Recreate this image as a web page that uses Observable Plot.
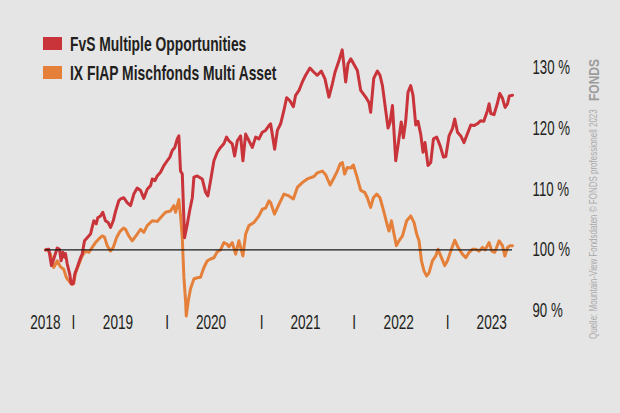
<!DOCTYPE html>
<html><head><meta charset="utf-8">
<script src="https://cdn.jsdelivr.net/npm/d3@7"></script>
<script src="https://cdn.jsdelivr.net/npm/@observablehq/plot@0.6"></script>
<style>
html,body{margin:0;padding:0;background:#e5e5e5;}
#wrap{position:relative;width:620px;height:413px;overflow:hidden;background:#e5e5e5;}
#wrap svg{position:absolute;left:0;top:0;}
.leg{position:absolute;left:43px;font-family:"Liberation Sans",Arial,sans-serif;font-weight:bold;font-size:21px;color:#231f20;white-space:nowrap;}
.leg .sw{position:absolute;left:0;width:19px;height:13px;}
.leg .tx{position:absolute;left:27px;display:inline-block;transform:scaleX(0.66);transform-origin:0 0;line-height:21px;}
.src{position:absolute;transform-origin:0 0;white-space:nowrap;font-family:"Liberation Sans",Arial,sans-serif;}
</style></head><body><div id="wrap"></div>
<script>
const seriesNames = ["FvS Multiple Opportunities", "IX FIAP Mischfonds Multi Asset"];
const seriesColors = ["#c9333a", "#e5803b"];

// time in decimal years, value in %
const fvsT = [2018.701,2018.736,2018.765,2018.789,2018.826,2018.850,2018.868,2018.886,2018.904,2018.914,
2018.933,2018.960,2018.975,2018.997,2019.014,2019.040,2019.075,2019.093,2019.118,2019.147,
2019.182,2019.217,2019.243,2019.260,2019.289,2019.313,2019.342,2019.371,2019.396,2019.425,
2019.449,2019.484,2019.503,2019.538,2019.574,2019.610,2019.645,2019.681,2019.717,2019.752,
2019.788,2019.824,2019.842,2019.870,2019.895,2019.930,2019.966,2020.002,2020.030,2020.056,
2020.083,2020.109,2020.126,2020.144,2020.163,2020.187,2020.216,2020.241,2020.270,2020.287,
2020.323,2020.376,2020.412,2020.436,2020.465,2020.501,2020.537,2020.572,2020.607,2020.636,
2020.661,2020.697,2020.722,2020.751,2020.786,2020.811,2020.840,2020.875,2020.911,2020.947,
2020.982,2021.018,2021.053,2021.089,2021.107,2021.150,2021.179,2021.214,2021.249,2021.278,
2021.313,2021.350,2021.374,2021.410,2021.446,2021.481,2021.527,2021.570,2021.606,2021.649,
2021.688,2021.730,2021.767,2021.795,2021.837,2021.872,2021.891,2021.909,2021.934,2021.963,
2021.991,2022.034,2022.070,2022.123,2022.158,2022.176,2022.209,2022.248,2022.276,2022.302,
2022.337,2022.362,2022.383,2022.409,2022.444,2022.471,2022.503,2022.526,2022.551,2022.575,
2022.604,2022.629,2022.658,2022.682,2022.711,2022.736,2022.757,2022.789,2022.818,2022.847,
2022.882,2022.918,2022.954,2022.979,2023.014,2023.050,2023.075,2023.104,2023.139,2023.174,
2023.211,2023.246,2023.281,2023.316,2023.353,2023.385,2023.425,2023.442,2023.460,2023.495,
2023.529,2023.556,2023.585,2023.613,2023.639,2023.658,2023.692];
const fvsV = [100.0,100.1,97.4,98.5,100.3,100.1,98.2,99.6,98.8,99.4,
97.7,96.0,94.4,94.4,96.0,97.1,98.7,99.3,101.5,102.0,
102.6,104.8,104.3,105.3,105.6,106.2,104.8,104.5,103.7,104.8,
106.3,108.1,108.4,108.6,107.8,107.3,109.2,110.2,109.8,108.5,
110.0,110.6,111.7,111.4,112.2,112.8,113.9,114.7,115.3,116.4,
116.9,118.3,118.8,113.0,112.5,102.0,104.2,106.4,108.6,112.0,
112.2,111.7,109.5,108.9,111.4,114.7,116.1,116.9,117.5,118.6,
118.0,117.5,115.5,118.0,118.8,114.7,119.1,118.0,116.9,118.6,
118.3,119.4,119.7,120.5,120.8,116.6,119.7,120.8,123.0,125.1,
124.6,123.6,125.5,126.3,127.7,128.8,130.0,129.3,128.8,129.5,
128.2,125.2,127.4,129.3,131.2,133.0,130.4,127.7,130.7,131.5,
130.8,129.6,126.3,125.2,124.3,122.7,128.3,129.5,128.8,127.1,
123.0,120.1,121.0,123.8,114.7,117.5,121.1,118.5,121.3,126.0,
127.1,125.5,120.6,121.2,119.1,116.1,117.7,113.9,114.4,118.3,
118.6,117.2,115.3,115.4,118.8,120.0,121.6,119.4,118.8,117.7,
119.2,120.6,120.5,120.8,121.3,121.2,123.0,124.1,122.5,122.3,
124.1,125.8,125.0,123.5,124.1,125.4,125.5];

const fiapT = [2018.701,2018.719,2018.754,2018.789,2018.826,2018.861,2018.896,2018.925,2018.950,2018.986,
2019.003,2019.021,2019.057,2019.093,2019.128,2019.164,2019.200,2019.235,2019.271,2019.307,
2019.332,2019.360,2019.396,2019.425,2019.460,2019.495,2019.535,2019.556,2019.591,2019.628,
2019.681,2019.717,2019.752,2019.788,2019.842,2019.895,2019.930,2019.984,2020.037,2020.073,
2020.091,2020.126,2020.144,2020.163,2020.180,2020.198,2020.205,2020.227,2020.251,2020.287,
2020.321,2020.358,2020.394,2020.430,2020.465,2020.501,2020.537,2020.572,2020.607,2020.644,
2020.661,2020.697,2020.733,2020.768,2020.811,2020.840,2020.875,2020.928,2020.982,2021.018,
2021.053,2021.089,2021.107,2021.148,2021.196,2021.249,2021.303,2021.350,2021.392,2021.446,
2021.499,2021.570,2021.606,2021.660,2021.695,2021.743,2021.784,2021.820,2021.850,2021.874,
2021.898,2021.927,2021.963,2021.991,2022.027,2022.070,2022.112,2022.141,2022.176,2022.205,
2022.241,2022.276,2022.319,2022.355,2022.372,2022.398,2022.426,2022.451,2022.479,2022.516,
2022.561,2022.604,2022.640,2022.668,2022.693,2022.719,2022.747,2022.775,2022.800,2022.836,
2022.872,2022.896,2022.925,2022.968,2022.997,2023.032,2023.075,2023.110,2023.157,2023.193,
2023.228,2023.264,2023.300,2023.335,2023.371,2023.399,2023.442,2023.471,2023.503,2023.549,
2023.585,2023.610,2023.639,2023.666,2023.692];
const fiapV = [100.0,100.1,99.3,97.1,98.2,97.2,96.8,95.4,94.9,94.3,
94.5,96.2,97.6,99.0,99.8,99.6,100.4,101.2,101.8,102.3,
102.1,100.7,99.8,100.4,102.0,103.0,103.6,103.4,102.3,101.5,
102.6,103.4,102.9,104.0,104.8,104.7,105.3,106.2,106.4,107.3,
106.2,108.3,105.7,102.0,95.5,91.6,89.1,91.6,93.6,95.2,
95.4,95.5,97.1,98.2,98.5,98.7,99.7,100.0,101.2,100.9,
100.5,101.2,99.3,101.5,99.0,102.6,104.0,104.5,105.6,106.7,
106.9,108.1,107.8,105.9,107.5,109.2,108.9,108.4,110.3,111.1,
111.7,112.1,112.7,113.0,112.4,110.7,111.9,113.0,114.2,114.4,
112.5,113.6,113.5,114.0,112.2,109.8,109.5,108.6,107.0,108.6,
109.2,108.6,106.2,104.0,103.1,104.8,102.6,100.7,101.5,102.3,
104.8,105.6,104.5,102.6,101.5,98.2,96.5,95.7,96.2,98.2,
99.0,100.1,99.0,97.4,98.2,99.8,101.6,100.4,99.3,98.7,
99.6,100.1,100.1,99.8,100.4,100.0,101.2,99.8,99.6,101.5,
100.7,99.0,100.4,100.7,100.7];

const yTicks = [90, 100, 110, 120, 130];
const yearLabels = ["2018", "2019", "2020", "2021", "2022", "2023"];
const yearLabelPos = [2018.70, 2019.476, 2020.47, 2021.48, 2022.476, 2023.47];
const yearBreaks = [2019, 2020, 2021.01, 2022, 2023];
const baseline = 100;

const fvs = fvsT.map((t, i) => ({t, v: fvsV[i]}));
const fiap = fiapT.map((t, i) => ({t, v: fiapV[i]}));

const chart = Plot.plot({
  width: 620, height: 413,
  marginLeft: 45, marginRight: 108, marginTop: 67.5, marginBottom: 103,
  style: {background: "transparent", fontFamily: "'Liberation Sans', Arial, sans-serif", color: "#231f20"},
  x: {domain: [fvsT[0], fvsT[fvsT.length - 1]], axis: null},
  y: {domain: [90, 130], axis: null},
  marks: [
    Plot.line(fiap, {x: "t", y: "v", stroke: seriesColors[1], strokeWidth: 3, strokeLinejoin: "round", strokeLinecap: "round"}),
    Plot.line(fvs, {x: "t", y: "v", stroke: seriesColors[0], strokeWidth: 3, strokeLinejoin: "round", strokeLinecap: "round"}),
    Plot.ruleY([baseline], {stroke: "#1a1a1a", strokeWidth: 1.4}),
    Plot.axisY(yTicks, {anchor: "right", label: null, tickSize: 0, tickPadding: 20, tickFormat: d => d + " %", fontSize: 19.5, fill: "#231f20"}),
    Plot.text(yearLabels, {x: (d, i) => yearLabelPos[i], text: d => d, frameAnchor: "bottom", dy: 18, fontSize: 20, fill: "#231f20"}),
    Plot.text(yearBreaks, {x: d => d, text: () => "I", frameAnchor: "bottom", dy: 18, fontSize: 20, fill: "#231f20"})
  ]
});
const wrap = document.getElementById("wrap");
wrap.appendChild(chart);

// condense text glyphs to mimic the narrow typeface
chart.querySelectorAll("text").forEach(t => {
  const len = t.getComputedTextLength();
  if (len > 0) { t.setAttribute("textLength", (len * 0.68).toFixed(1)); t.setAttribute("lengthAdjust", "spacingAndGlyphs"); }
});

// legend
seriesNames.forEach((name, i) => {
  const d = document.createElement("div");
  d.className = "leg";
  d.style.top = (33 + i * 29) + "px";
  d.innerHTML = `<span class="sw" style="top:4px;background:${seriesColors[i]}"></span><span class="tx">${name}</span>`;
  wrap.appendChild(d);
});

// source note (rotated)
const s1 = document.createElement("div");
s1.className = "src";
s1.style.left = "587px"; s1.style.top = "339px";
s1.style.transform = "rotate(-90deg) scaleX(0.76)";
s1.style.fontSize = "10.5px"; s1.style.color = "#a9a9a9"; s1.style.lineHeight = "12px";
s1.textContent = "Quelle: Mountain-View Fondsdaten  © FONDS professionell 2023";
wrap.appendChild(s1);
const s2 = document.createElement("div");
s2.className = "src";
s2.style.left = "586px"; s2.style.top = "101px";
s2.style.transform = "rotate(-90deg) scaleX(0.8)";
s2.style.fontSize = "15px"; s2.style.fontWeight = "bold"; s2.style.color = "#9c9c9c"; s2.style.lineHeight = "15px";
s2.textContent = "FONDS";
wrap.appendChild(s2);
</script>
</body></html>
